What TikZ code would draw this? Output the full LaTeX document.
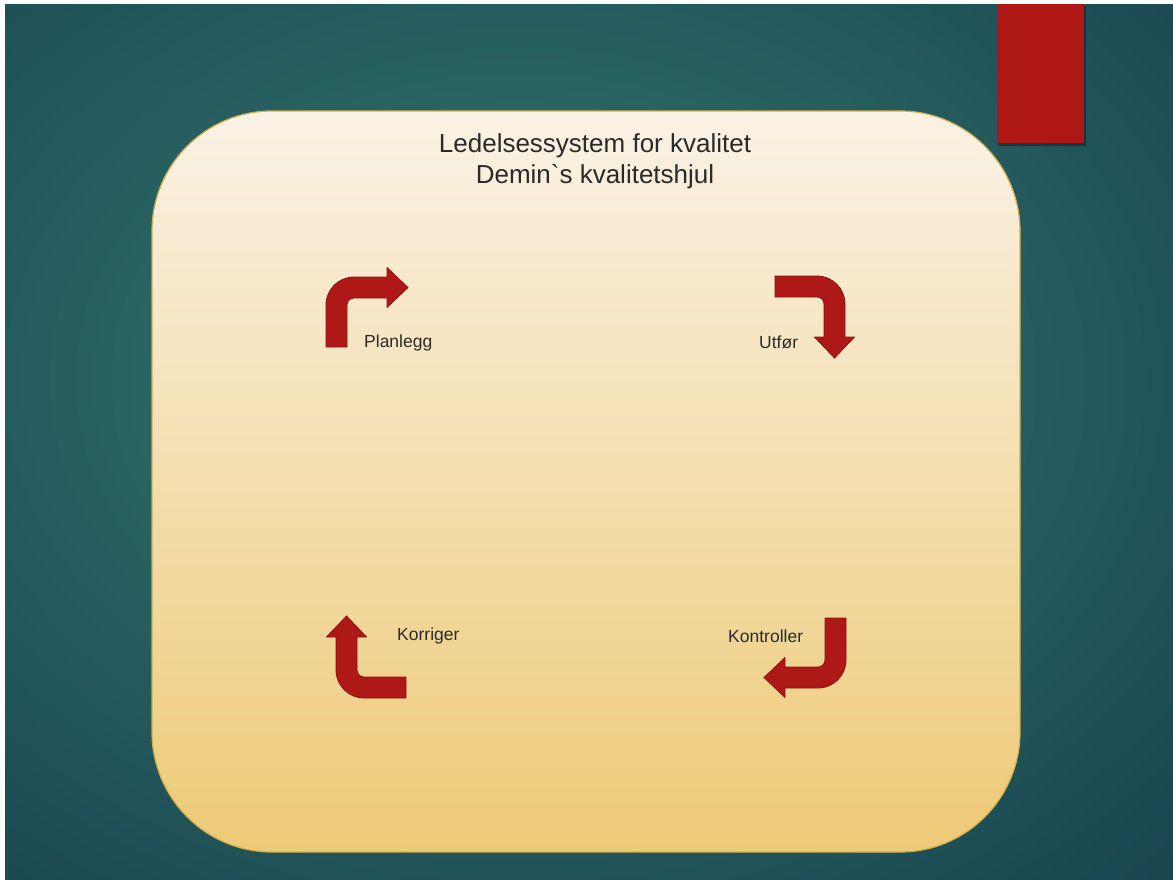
\documentclass[tikz,border=0pt]{standalone}
\usepackage{fontspec}
\setmainfont{Liberation Sans}[Ligatures=TeXOff]
\definecolor{bgin}{HTML}{2D6A68}
\definecolor{bgout}{HTML}{0E3142}
\definecolor{boxtop}{HTML}{FAF2E5}
\definecolor{boxbot}{HTML}{EDCA76}
\definecolor{boxline}{HTML}{D3AD48}
\definecolor{arrred}{HTML}{AE1816}
\definecolor{arrline}{HTML}{8E1311}
\definecolor{tabred}{HTML}{AF1715}
\definecolor{txt}{HTML}{2A2A2A}
\pgfdeclareradialshading{bgglow}{\pgfpoint{0bp}{0bp}}{color(0bp)=(bgin); color(8bp)=(bgin); color(40bp)=(bgout); color(80bp)=(bgout)}
\tikzset{
  arrowshape/.style={fill=arrred, draw=arrline, line width=0.8pt, line join=round},
  bentarrow/.pic={
    \path[arrowshape] (0,70) -- (0,28) .. controls (0,12.5) and (12.5,0) .. (28,0)
      -- (61,0) -- (61,-9.5) -- (82,10.5) -- (61,30.5) -- (61,21) -- (28,21)
      .. controls (24.1,21) and (21,24.1) .. (21,28) -- (21,70) -- cycle;
  },
  lab/.style={font=\fontsize{17.5}{20}\selectfont, text=txt, inner sep=0pt, anchor=base west},
  ttl/.style={font=\fontsize{26}{31}\selectfont, text=txt, inner sep=0pt, anchor=base},
}
\begin{document}
\begin{tikzpicture}[x=1pt, y=-1pt]
\useasboundingbox (0,0) rectangle (1173,879);
\fill[white] (0,0) rectangle (1173,879);
\begin{scope}
  \clip (5,4) rectangle (1173,879);
  \fill[bgout] (5,4) rectangle (1173,879);
  \shade[shading=bgglow] (-280,-220) rectangle (1320,980);
\end{scope}
% red tab
\fill[black, opacity=0.35] (998,6) rectangle (1086,146);
\fill[tabred] (997,4) rectangle (1084,143);
% main box
\shade[top color=boxtop, bottom color=boxbot, draw=boxline, line width=1.2pt, rounded corners=120pt]
  (152,111) rectangle (1020,852);
% title
\node[ttl] (t1) at (595,152) {Ledelsessystem for kvalitet};
\node[ttl] (t2) at (595,183) {Demin`s kvalitetshjul};
% arrows
\pic (pa) at (326,277) {bentarrow};
\pic[rotate=-90] (ua) at (845,276) {bentarrow};
\pic[rotate=180] (ka) at (846,688) {bentarrow};
\pic[rotate=90] (ra) at (336,698) {bentarrow};
% labels
\node[lab] (planlegg) at (364,347) {Planlegg};
\node[lab] (utfor) at (759,348) {Utfør};
\node[lab] (korriger) at (397,640) {Korriger};
\node[lab] (kontroller) at (728,642) {Kontroller};
\end{tikzpicture}
\end{document}
